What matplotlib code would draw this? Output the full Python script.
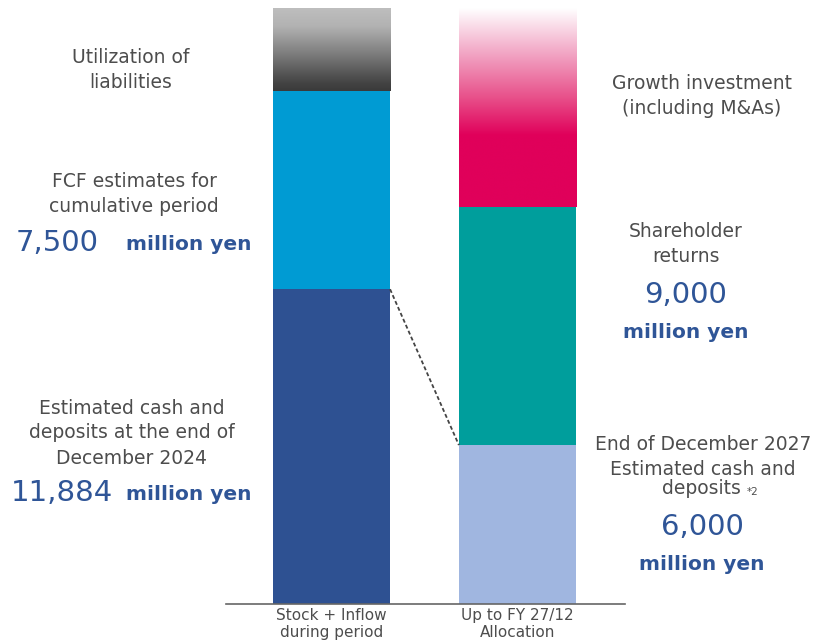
import matplotlib.pyplot as plt
import numpy as np
from matplotlib.colors import LinearSegmentedColormap

# values in million yen
bar_labels = ["Stock + Inflow\nduring period", "Up to FY 27/12\nAllocation"]
left_cash = 11884        # estimated cash and deposits, end of Dec 2024
left_fcf = 7500          # FCF estimates for cumulative period
left_liabilities = 3116  # utilization of liabilities
right_cash = 6000        # estimated cash and deposits, end of Dec 2027
right_returns = 9000     # shareholder returns
right_growth = 7500      # growth investment (including M&As)

DARK_BLUE = "#2e5192"
SKY = "#009bd3"
PERIWINKLE = "#a0b6e0"
TEAL = "#009e9c"
NUM_BLUE = "#2f5597"
TEXT_GRAY = "#4d4d4d"

W, H = 815, 643
fig = plt.figure(figsize=(W / 100, H / 100), dpi=100)
ax = fig.add_axes([226 / W, (H - 604) / H, (625 - 226) / W, (604 - 8) / H])

x = np.array([0.0, 1.0])
width = 0.63
total = max(left_cash + left_fcf + left_liabilities, right_cash + right_returns + right_growth)

ax.bar(x[0], left_cash, width, color=DARK_BLUE, zorder=2)
ax.bar(x[0], left_fcf, width, bottom=left_cash, color=SKY, zorder=2)
ax.bar(x[1], right_cash, width, color=PERIWINKLE, zorder=2)
ax.bar(x[1], right_returns, width, bottom=right_cash, color=TEAL, zorder=2)

gray_cmap = LinearSegmentedColormap.from_list(
    "liab", [(0.0, "#3a3a3a"), (0.1, "#444444"), (0.45, "#7d7d7d"),
             (0.78, "#b2b2b2"), (1.0, "#bebebe")])
pink_cmap = LinearSegmentedColormap.from_list(
    "growth", [(0.0, "#e0005a"), (0.36, "#e0005a"), (0.55, "#e8508a"),
               (0.78, "#f2a8c6"), (1.0, "#ffffff")])
grad = np.linspace(0, 1, 256).reshape(-1, 1)


def gradient_segment(xc, bottom, height, cmap):
    ax.imshow(grad, cmap=cmap, origin="lower", aspect="auto", interpolation="bicubic",
              extent=(xc - width / 2, xc + width / 2, bottom, bottom + height), zorder=2)


gradient_segment(x[0], left_cash + left_fcf, left_liabilities, gray_cmap)
gradient_segment(x[1], right_cash + right_returns, right_growth, pink_cmap)

# connector between the two cash segments
ax.plot([x[0] + width / 2, x[1] - width / 2], [left_cash, right_cash],
        color="#444444", lw=1.3, ls=(0, (2.2, 1.4)), zorder=3)

ax.set_xlim(-0.567, 1.578)
ax.set_ylim(0, total)
for side in ("left", "right", "top"):
    ax.spines[side].set_visible(False)
ax.spines["bottom"].set_color("#666666")
ax.spines["bottom"].set_linewidth(1.2)
ax.set_yticks([])
ax.set_xticks(x)
ax.set_xticklabels(bar_labels, fontsize=11, color=TEXT_GRAY, linespacing=1.15)
ax.tick_params(axis="x", length=0, pad=3)


def ftext(px, py, s, **kw):
    fig.text(px / W, 1 - py / H, s, **kw)


lab = dict(fontsize=13.5, color=TEXT_GRAY, ha="center", va="center", linespacing=1.4)
big = dict(fontsize=21, color=NUM_BLUE, va="center")
unit = dict(fontsize=14.5, color=NUM_BLUE, fontweight="bold", va="center")

ftext(131, 70, "Utilization of\nliabilities", **lab)
ftext(134, 194, "FCF estimates for\ncumulative period", **lab)
ftext(16, 243, "7,500", ha="left", **big)
ftext(126, 245, "million yen", ha="left", **unit)
ftext(132, 433, "Estimated cash and\ndeposits at the end of\nDecember 2024", **lab)
ftext(11, 493, "11,884", ha="left", **big)
ftext(126, 495, "million yen", ha="left", **unit)

ftext(702, 96, "Growth investment\n(including M&As)", **lab)
ftext(686, 244, "Shareholder\nreturns", **lab)
ftext(686, 295, "9,000", ha="center", **big)
ftext(686, 332, "million yen", ha="center", **unit)
ftext(703, 457, "End of December 2027\nEstimated cash and", **lab)
ftext(701, 489, "deposits", **lab)
ftext(753, 492, "*2", fontsize=7.5, color=TEXT_GRAY, ha="center", va="center")
ftext(702, 527, "6,000", ha="center", **big)
ftext(702, 564, "million yen", ha="center", **unit)

fig.savefig("out.png", dpi=100)
